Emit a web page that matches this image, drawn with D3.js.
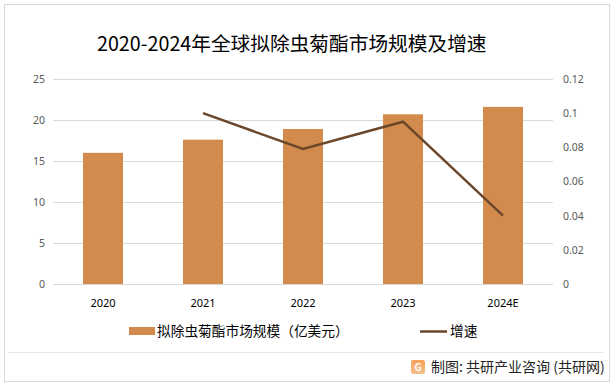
<!DOCTYPE html>
<html>
<head>
<meta charset="utf-8">
<script src="https://cdn.jsdelivr.net/npm/d3@7"></script>
<style>
  body { margin: 0; background: #fff; }
  svg { display: block; font-family: "Noto Sans CJK SC", "Noto Sans", sans-serif; }
</style>
</head>
<body>
<svg id="chart" width="616" height="386"></svg>
<script>
const years = ["2020", "2021", "2022", "2023", "2024E"];
const marketSize = [16.0, 17.6, 18.9, 20.7, 21.6];
const growth = [null, 0.10, 0.079, 0.095, 0.04];
const leftTicks = [0, 5, 10, 15, 20, 25];
const rightTicks = [0, 0.02, 0.04, 0.06, 0.08, 0.1, 0.12];

const svg = d3.select("#chart");
const W = 616, H = 386;
const m = { left: 53, right: 63, top: 79, bottom: 102 };

const barColor = "#d38b4d";
const lineColor = "#6b472b";

// outer frame
svg.append("rect")
  .attr("x", 4.5).attr("y", 4.5)
  .attr("width", 605).attr("height", 377)
  .attr("fill", "none").attr("stroke", "#d9d9d9");

svg.append("text")
  .attr("x", 97).attr("y", 51)
  .attr("font-size", 19.7).attr("fill", "#000")
  .text("2020-2024年全球拟除虫菊酯市场规模及增速");

const xc = d3.scalePoint().domain(years).range([m.left, W - m.right]).padding(0.5);
const y = d3.scaleLinear().domain([0, 25]).range([H - m.bottom, m.top]);
const y2 = d3.scaleLinear().domain([0, 0.12]).range([H - m.bottom, m.top]);

// gridlines
svg.append("g").selectAll("line").data(leftTicks).join("line")
  .attr("x1", m.left).attr("x2", W - m.right)
  .attr("y1", d => Math.round(y(d)) + 0.5).attr("y2", d => Math.round(y(d)) + 0.5)
  .attr("stroke", "#d9d9d9");

// left axis
const ga = svg.append("g").attr("transform", `translate(${m.left - 8},0)`)
  .call(d3.axisLeft(y).tickValues(leftTicks).tickSize(0).tickPadding(0));
ga.select(".domain").remove();
ga.selectAll("text").attr("fill", "#595959").attr("font-size", 10.5).attr("font-family", "Noto Sans, sans-serif");

// right axis
const gr = svg.append("g").attr("transform", `translate(${W - m.right + 10},0)`)
  .call(d3.axisRight(y2).tickValues(rightTicks).tickSize(0).tickPadding(0).tickFormat(d => String(+d.toFixed(2))));
gr.select(".domain").remove();
gr.selectAll("text").attr("fill", "#595959").attr("font-size", 10.5).attr("font-family", "Noto Sans, sans-serif");

// bars
svg.append("g").selectAll("rect").data(marketSize).join("rect")
  .attr("x", (d, i) => xc(years[i]) - 20)
  .attr("width", 40)
  .attr("y", d => y(d))
  .attr("height", d => y(0) - y(d))
  .attr("fill", barColor);

// x labels
svg.append("g").selectAll("text").data(years).join("text")
  .attr("x", d => xc(d)).attr("y", 307)
  .attr("text-anchor", "middle").attr("font-size", 11).attr("fill", "#000")
  .attr("font-family", "Noto Sans, sans-serif")
  .text(d => d);

// growth line
const line = d3.line()
  .defined(d => d != null)
  .x((d, i) => xc(years[i]))
  .y(d => y2(d));
svg.append("path").datum(growth)
  .attr("d", line)
  .attr("fill", "none").attr("stroke", lineColor).attr("stroke-width", 2.5);

// legend
svg.append("rect").attr("x", 129).attr("y", 327).attr("width", 26).attr("height", 8).attr("fill", barColor);
svg.append("text").attr("x", 157).attr("y", 336).attr("font-size", 13.7).attr("fill", "#000")
  .text("拟除虫菊酯市场规模（亿美元）");
svg.append("line").attr("x1", 420).attr("x2", 447).attr("y1", 331.5).attr("y2", 331.5)
  .attr("stroke", lineColor).attr("stroke-width", 2.5);
svg.append("text").attr("x", 450).attr("y", 336).attr("font-size", 13.7).attr("fill", "#000")
  .text("增速");

// footer
svg.append("line").attr("x1", 8).attr("x2", 604).attr("y1", 352.5).attr("y2", 352.5).attr("stroke", "#e6e6e6");
const grad = svg.append("defs").append("linearGradient").attr("id", "lg").attr("x1", 0).attr("y1", 0).attr("x2", 0).attr("y2", 1);
grad.append("stop").attr("offset", 0).attr("stop-color", "#f7a15a");
grad.append("stop").attr("offset", 1).attr("stop-color", "#f4c08a");
svg.append("rect").attr("x", 411).attr("y", 360).attr("width", 14).attr("height", 14).attr("rx", 2).attr("fill", "url(#lg)");
svg.append("text").attr("x", 414.5).attr("y", 371).attr("font-size", 10).attr("font-weight", "bold").attr("fill", "#fff").text("G");
svg.append("text").attr("x", 431).attr("y", 372).attr("font-size", 14).attr("fill", "#222")
  .text("制图: 共研产业咨询 (共研网)");
</script>
</body>
</html>
